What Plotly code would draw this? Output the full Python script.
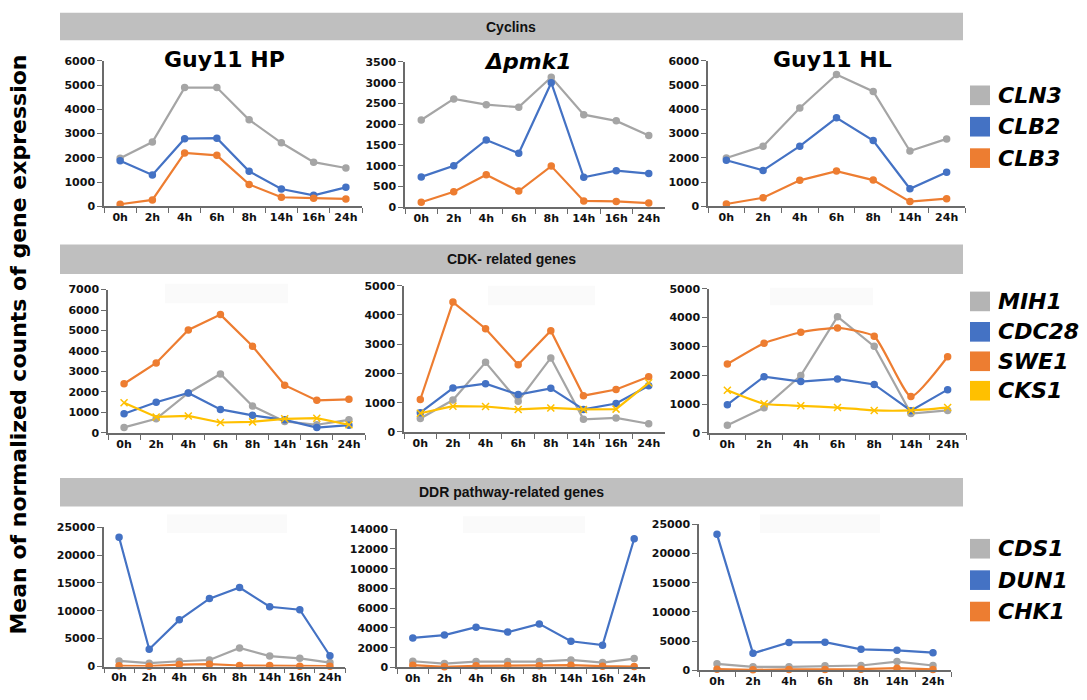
import plotly.graph_objects as go

W, H = 1087, 700

times8 = ["0h", "2h", "4h", "6h", "8h", "14h", "16h", "24h"]
times7 = ["0h", "2h", "4h", "6h", "8h", "14h", "24h"]

# Cyclins
hp_cln3 = [1980, 2650, 4900, 4900, 3570, 2620, 1820, 1580]
hp_clb2 = [1880, 1290, 2790, 2810, 1440, 710, 450, 780]
hp_clb3 = [80, 260, 2200, 2100, 900, 370, 330, 300]
pmk_cln3 = [2100, 2610, 2470, 2410, 3130, 2230, 2080, 1730]
pmk_clb2 = [730, 1000, 1620, 1300, 3000, 720, 880, 810]
pmk_clb3 = [120, 370, 780, 390, 990, 150, 140, 100]
hl_cln3 = [1990, 2480, 4060, 5440, 4740, 2280, 2780]
hl_clb2 = [1900, 1480, 2480, 3650, 2710, 720, 1400]
hl_clb3 = [90, 350, 1070, 1450, 1080, 190, 310]

# CDK-related genes
hp_mih1 = [270, 690, 1950, 2880, 1310, 560, 400, 640]
hp_cdc28 = [940, 1500, 1950, 1150, 860, 640, 260, 380]
hp_swe1 = [2400, 3420, 5030, 5780, 4230, 2330, 1590, 1640]
hp_cks1 = [1470, 780, 830, 510, 540, 690, 720, 400]
pmk_mih1 = [460, 1090, 2380, 1050, 2530, 430, 480, 280]
pmk_cdc28 = [660, 1500, 1650, 1280, 1490, 770, 970, 1580]
pmk_swe1 = [1110, 4440, 3530, 2300, 3460, 1240, 1450, 1890]
pmk_cks1 = [640, 880, 870, 770, 820, 770, 780, 1680]
hl_mih1 = [270, 870, 1990, 4030, 3000, 670, 780]
hl_cdc28 = [980, 1950, 1780, 1870, 1680, 770, 1500]
hl_swe1 = [2390, 3110, 3490, 3640, 3350, 1260, 2640]
hl_cks1 = [1480, 1010, 940, 880, 780, 780, 880]

# DDR pathway-related genes
hp_cds1 = [1000, 590, 940, 1170, 3340, 1870, 1460, 700]
hp_dun1 = [23200, 3100, 8370, 12180, 14170, 10710, 10190, 1930]
hp_chk1 = [120, 50, 350, 410, 180, 180, 60, 60]
pmk_cds1 = [630, 400, 600, 600, 600, 760, 500, 900]
pmk_dun1 = [2990, 3280, 4080, 3580, 4410, 2650, 2260, 13030]
pmk_chk1 = [230, 70, 170, 200, 170, 230, 130, 100]
hl_cds1 = [1120, 620, 620, 790, 840, 1520, 840]
hl_dun1 = [23260, 2920, 4780, 4830, 3600, 3430, 3030]
hl_chk1 = [220, 100, 170, 170, 220, 390, 170]

GRAY, BLUE, ORANGE, YELLOW = "#a5a5a5", "#4472c4", "#ed7d31", "#ffc000"

FONT = "DejaVu Sans"

# panel boxes in pixels: (x0, x1, ytop, ybottom), y max, y step
panels = [
    ((104, 362, 56, 204), 6000, 1000, times8,
     [(hp_cln3, GRAY, "circle", "linear"), (hp_clb2, BLUE, "circle", "linear"), (hp_clb3, ORANGE, "circle", "linear")]),
    ((405, 665, 57, 205), 3500, 500, times8,
     [(pmk_cln3, GRAY, "circle", "linear"), (pmk_clb2, BLUE, "circle", "linear"), (pmk_clb3, ORANGE, "circle", "linear")]),
    ((708, 965, 56, 204), 6000, 1000, times7,
     [(hl_cln3, GRAY, "circle", "linear"), (hl_clb2, BLUE, "circle", "linear"), (hl_clb3, ORANGE, "circle", "linear")]),
    ((108, 365, 289, 435), 7000, 1000, times8,
     [(hp_mih1, GRAY, "circle", "linear"), (hp_cdc28, BLUE, "circle", "linear"),
      (hp_swe1, ORANGE, "circle", "linear"), (hp_cks1, YELLOW, "x-thin", "linear")]),
    ((404, 665, 285, 434), 5000, 1000, times8,
     [(pmk_mih1, GRAY, "circle", "linear"), (pmk_cdc28, BLUE, "circle", "linear"),
      (pmk_swe1, ORANGE, "circle", "linear"), (pmk_cks1, YELLOW, "x-thin", "linear")]),
    ((709, 966, 288, 435), 5000, 1000, times7,
     [(hl_mih1, GRAY, "circle", "linear"), (hl_cdc28, BLUE, "circle", "linear"),
      (hl_swe1, ORANGE, "circle", "spline"), (hl_cks1, YELLOW, "x-thin", "spline")]),
    ((104, 345, 531, 673), 25000, 5000, times8,
     [(hp_cds1, GRAY, "circle", "linear"), (hp_dun1, BLUE, "circle", "linear"), (hp_chk1, ORANGE, "circle", "linear")]),
    ((397, 650, 533, 674), 14000, 2000, times8,
     [(pmk_cds1, GRAY, "circle", "linear"), (pmk_dun1, BLUE, "circle", "linear"), (pmk_chk1, ORANGE, "circle", "linear")]),
    ((699, 951, 528, 677), 25000, 5000, times7,
     [(hl_cds1, GRAY, "circle", "linear"), (hl_dun1, BLUE, "circle", "linear"), (hl_chk1, ORANGE, "circle", "linear")]),
]

fig = go.Figure()
layout = dict(
    width=W, height=H, margin=dict(l=0, r=0, t=0, b=0),
    paper_bgcolor="white", plot_bgcolor="white", showlegend=False,
    shapes=[], annotations=[],
)


def px(x):
    return x / W


def py(y):
    return 1 - y / H


# faint placeholder boxes at the top of the lower panels
faint = [(165, 288, 283, 303), (488, 595, 285, 305), (770, 873, 287, 305),
         (167, 287, 518, 537), (463, 585, 520, 537), (760, 880, 518, 537)]
for x0, x1, y0, y1 in faint:
    layout["shapes"].append(dict(type="rect", xref="paper", yref="paper",
                                 x0=px(x0), x1=px(x1), y0=py(y1), y1=py(y0),
                                 fillcolor="#fafafa", line=dict(width=0), layer="below"))

tick_font = dict(family=FONT, size=11, color="#111111", weight="bold")

for i, (box, ymax, dt, cats, series) in enumerate(panels, start=1):
    x0, x1, yt, yb = box
    xa = "x" if i == 1 else f"x{i}"
    ya = "y" if i == 1 else f"y{i}"
    for vals, col, sym, shape in series:
        fig.add_trace(go.Scatter(
            x=cats, y=vals, xaxis=xa, yaxis=ya, mode="lines+markers",
            line=dict(color=col, width=2.2, shape=shape, smoothing=0.5),
            marker=dict(symbol=sym, size=6 if sym == "circle" else 7, color=col,
                        line=dict(color=col, width=1.5)),
            cliponaxis=False,
        ))
    layout["xaxis" if i == 1 else f"xaxis{i}"] = dict(
        domain=[px(x0), px(x1)], anchor=ya, type="category",
        categoryorder="array", categoryarray=cats,
        range=[-0.5, len(cats) - 0.5], tickangle=0,
        showline=True, linecolor="#6b6b6b", linewidth=1.5,
        ticks="outside", tickson="boundaries", ticklen=5, tickcolor="#6b6b6b", tickwidth=1.2,
        showgrid=False, zeroline=False, tickfont=tick_font,
    )
    layout["yaxis" if i == 1 else f"yaxis{i}"] = dict(
        domain=[py(yb), py(yt)], anchor=xa, range=[0, ymax], dtick=dt, tickformat="d",
        showline=True, linecolor="#6b6b6b", linewidth=1.5,
        ticks="outside", ticklen=5, tickcolor="#6b6b6b", tickwidth=1.2,
        showgrid=False, zeroline=False, tickfont=tick_font,
    )

# section header bands
headers = [("Cyclins", 7, 35), ("CDK- related genes", 243, 273), ("DDR pathway-related genes", 481, 510)]
for text, y0, y1 in headers:
    layout["shapes"].append(dict(type="rect", xref="paper", yref="paper",
                                 x0=px(60), x1=px(963), y0=py(y1), y1=py(y0),
                                 fillcolor="#bfbfbf", line=dict(width=0), layer="below"))
    layout["annotations"].append(dict(text=f"<b>{text}</b>", xref="paper", yref="paper",
                                      x=px(511), y=py((y0 + y1) / 2), showarrow=False,
                                      font=dict(family="Liberation Sans", size=14, color="#111111"),
                                      xanchor="center", yanchor="middle"))

# strain titles
titles = [("<b>Guy11 HP</b>", 224, 55), ("<b><i>Δpmk1</i></b>", 528, 57), ("<b>Guy11 HL</b>", 832, 55)]
for text, x, y in titles:
    layout["annotations"].append(dict(text=text, xref="paper", yref="paper", x=px(x), y=py(y),
                                      showarrow=False, xanchor="center", yanchor="middle",
                                      font=dict(family=FONT, size=22, color="#000000")))

# gene legends
legends = [
    ([("CLN3", "#b4b4b4"), ("CLB2", BLUE), ("CLB3", ORANGE)], [91, 123, 155]),
    ([("MIH1", "#b4b4b4"), ("CDC28", BLUE), ("SWE1", ORANGE), ("CKS1", YELLOW)], [301, 332, 362, 392]),
    ([("CDS1", "#b4b4b4"), ("DUN1", BLUE), ("CHK1", ORANGE)], [553, 585, 617]),
]
for items, ys in legends:
    for (name, col), yc in zip(items, ys):
        layout["shapes"].append(dict(type="rect", xref="paper", yref="paper",
                                     x0=px(970), x1=px(990), y0=py(yc + 10), y1=py(yc - 10),
                                     fillcolor=col, line=dict(width=0)))
        layout["annotations"].append(dict(text=f"<b><i>{name}</i></b>", xref="paper", yref="paper",
                                          x=px(996), y=py(yc), showarrow=False,
                                          xanchor="left", yanchor="middle",
                                          font=dict(family=FONT, size=22, color="#000000")))

# shared y-axis title
layout["annotations"].append(dict(text="<b>Mean of normalized counts of gene expression</b>",
                                  xref="paper", yref="paper", x=px(19), y=py(345),
                                  showarrow=False, textangle=-90, xanchor="center", yanchor="middle",
                                  font=dict(family=FONT, size=22, color="#000000")))

fig.update_layout(**layout)
fig.write_html("out.html")
